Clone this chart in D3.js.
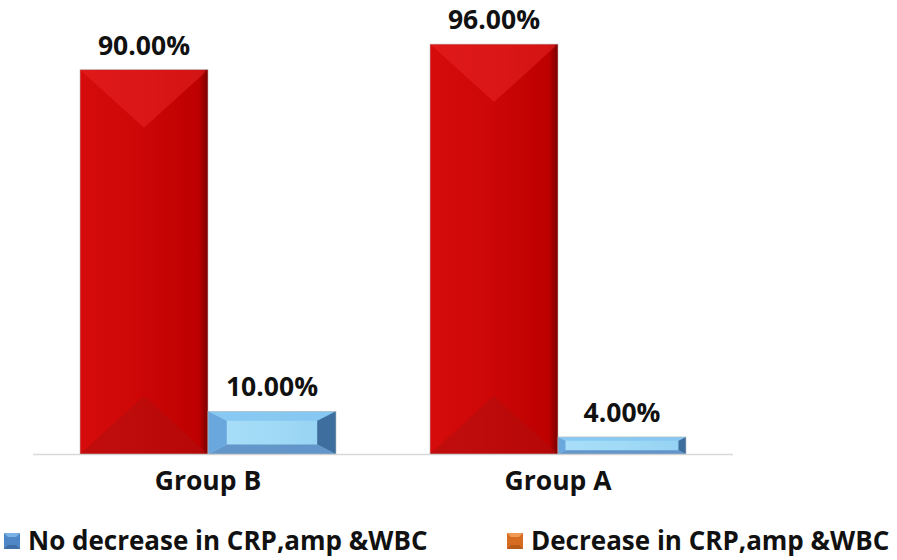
<!DOCTYPE html>
<html>
<head>
<meta charset="utf-8" />
<title>CRP chart</title>
<style>
* { padding: 0; margin: 0; }
body { background: #fff; }
#chart { width: 897px; height: 560px; }
text { font-family: "Open Sans", Lato, sans-serif; font-weight: bold; fill: #111; }
</style>
</head>
<body>
<div id="chart"></div>
<script src="https://cdn.jsdelivr.net/npm/d3@7"></script>
<script>
    // data
    var groups = ["Group B", "Group A"]
    var seriesNames = ["Decrease in CRP,amp &WBC", "No decrease in CRP,amp &WBC"]
    var decrease = [90, 96]
    var noDecrease = [10, 4]
    var legendOrder = ["No decrease in CRP,amp &WBC", "Decrease in CRP,amp &WBC"]

    var width = 897, height = 560
    var svg = d3.select("#chart").append("svg").attr("width", width).attr("height", height)
    var defs = svg.append("defs")

    var x = d3.scaleBand().domain(groups).range([33, 733]).paddingInner(0).paddingOuter(0)
    var xs = d3.scaleBand().domain(seriesNames).range([47, 303])
    var y = d3.scaleLinear().domain([0, 100]).range([454, 27])

    // colours of each bevelled face
    var faces = {
        "Decrease in CRP,amp &WBC": { front: ["#d60c0c", "#cc0606", "#bd0000", "#780000"], top: "#e82424", bottom: "#b10e0e", left: "#d10d0d", right: "#8a0000" },
        "No decrease in CRP,amp &WBC": { front: ["#a9def8", "#a0daf6", "#96d2f3", "#86c2ea"], top: "#84c7f1", bottom: "#5c8fc5", left: "#6aa7dd", right: "#3e6e9e" }
    }
    var legendColors = {
        "No decrease in CRP,amp &WBC": { base: "#4f86c6", top: "#7bb2e6", bottom: "#3d6ea8" },
        "Decrease in CRP,amp &WBC": { base: "#d66c22", top: "#f09a55", bottom: "#b85a18" }
    }

    seriesNames.forEach(function(s, i) {
        var g = defs.append("linearGradient").attr("id", "front" + i)
            .attr("x1", "0%").attr("x2", "100%").attr("y1", "0%").attr("y2", "0%")
        var c = faces[s].front
        g.append("stop").attr("offset", "0%").attr("stop-color", c[0])
        g.append("stop").attr("offset", "50%").attr("stop-color", c[1])
        g.append("stop").attr("offset", "93%").attr("stop-color", c[2])
        g.append("stop").attr("offset", "100%").attr("stop-color", c[3])
    })

    var rows = []
    groups.forEach(function(gname, gi) {
        rows.push({ group: gname, series: seriesNames[0], si: 0, value: decrease[gi] })
        rows.push({ group: gname, series: seriesNames[1], si: 1, value: noDecrease[gi] })
    })

    // axis baseline
    svg.append("line").attr("x1", x.range()[0]).attr("x2", x.range()[1])
        .attr("y1", y(0) + 0.5).attr("y2", y(0) + 0.5)
        .attr("stroke", "#d9d9d9").attr("stroke-width", 1.5)

    var bar = svg.append("g").selectAll("g").data(rows).enter().append("g")

    bar.each(function(d) {
        var g = d3.select(this)
        var x0 = x(d.group) + xs(d.series), w = xs.bandwidth()
        var y0 = y(d.value), y1 = y(0), h = y1 - y0
        var dy = Math.min(58, h * 0.22)
        var dx = Math.min(w / 2, dy * 2)
        var f = faces[d.series]
        var x1 = x0 + w
        g.append("rect").attr("x", x0).attr("y", y0).attr("width", w).attr("height", h)
            .attr("fill", "url(#front" + d.si + ")")
        g.append("polygon").attr("points", [[x0, y0], [x1, y0], [x1 - dx, y0 + dy], [x0 + dx, y0 + dy]].join(" "))
            .attr("fill", f.top).attr("opacity", d.si === 0 ? 0.55 : 0.9)
        g.append("polygon").attr("points", [[x0, y1], [x1, y1], [x1 - dx, y1 - dy], [x0 + dx, y1 - dy]].join(" "))
            .attr("fill", f.bottom).attr("opacity", d.si === 0 ? 0.55 : 0.9)
        if (d.si === 1) {
            g.append("polygon").attr("points", [[x0, y0], [x0 + dx, y0 + dy], [x0 + dx, y1 - dy], [x0, y1]].join(" "))
                .attr("fill", f.left)
            g.append("polygon").attr("points", [[x1, y0], [x1 - dx, y0 + dy], [x1 - dx, y1 - dy], [x1, y1]].join(" "))
                .attr("fill", f.right)
        } else {
            g.append("rect").attr("x", x1 - 3).attr("y", y0).attr("width", 3).attr("height", h)
                .attr("fill", f.right).attr("opacity", 0.5)
        }
        g.append("rect").attr("x", x0).attr("y", y0).attr("width", w).attr("height", h)
            .attr("fill", "none").attr("stroke", "#bdbdbd").attr("stroke-width", 0.6)
    })

    // value labels
    svg.append("g").selectAll("text").data(rows).enter().append("text")
        .attr("x", function(d) { return x(d.group) + xs(d.series) + xs.bandwidth() / 2 })
        .attr("y", function(d) { return y(d.value) - 15 })
        .attr("text-anchor", "middle").attr("font-size", 26.5)
        .text(function(d) { return d3.format(".2f")(d.value) + "%" })

    // category labels
    svg.append("g").selectAll("text").data(groups).enter().append("text")
        .attr("x", function(d) { return x(d) + x.bandwidth() / 2 })
        .attr("y", 490)
        .attr("text-anchor", "middle").attr("font-size", 26.5)
        .text(function(d) { return d })

    // legend
    var legendX = [4, 507]
    var leg = svg.append("g").selectAll("g").data(legendOrder).enter().append("g")
        .attr("transform", function(d, i) { return "translate(" + legendX[i] + ",533)" })
    leg.each(function(d) {
        var g = d3.select(this), c = legendColors[d], s = 16, b = 4
        g.append("rect").attr("width", s).attr("height", s).attr("fill", c.base)
        g.append("polygon").attr("points", [[0, 0], [s, 0], [s - b, b], [b, b]].join(" ")).attr("fill", c.top)
        g.append("polygon").attr("points", [[0, s], [s, s], [s - b, s - b], [b, s - b]].join(" ")).attr("fill", c.bottom)
    })
    leg.append("text").attr("x", 24).attr("y", 17).attr("font-size", 26)
        .text(function(d) { return d })
</script>
</body>
</html>
